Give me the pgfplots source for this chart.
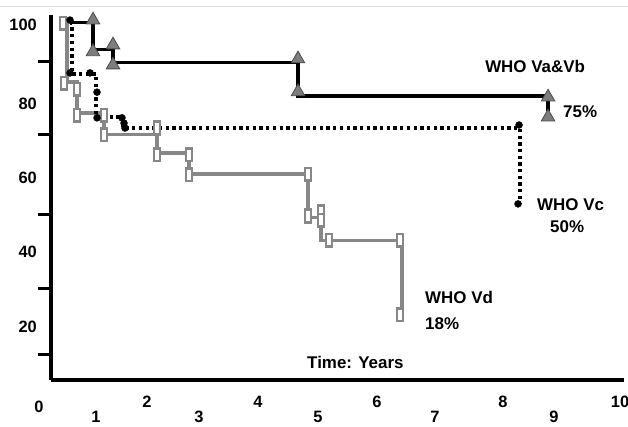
\documentclass[border=0pt]{standalone}
\usepackage{pgfplots}
\pgfplotsset{compat=1.18}
\usepackage{fontspec}
\setmainfont{Liberation Sans}
\definecolor{vdgray}{RGB}{135,135,135}
\definecolor{trigray}{RGB}{125,125,125}
\begin{document}
\begin{tikzpicture}
\path[use as bounding box] (0,0) rectangle (628bp,427bp);
\draw[black!12, line width=1bp] (0,420bp) -- (628bp,420bp);
\begin{axis}[
  at={(51bp,47bp)}, anchor=south west,
  scale only axis, width=573bp, height=365bp,
  xmin=0.225, xmax=10.138, ymin=5.35, ymax=102.04,
  axis lines=left,
  axis line style={-, line width=3bp, black},
  clip=false,
  /pgf/number format/assume math mode=true,
  ticklabel style={font=\fontsize{16.5}{18}\selectfont\bfseries},
  major tick length=0pt,
  xtick={1.886,3.806,5.865,8.045,10.07},
  xticklabels={2,4,6,8,10},
  xtick style={draw=none},
  xticklabel style={anchor=center, inner sep=0pt, yshift=-22bp},
  extra x ticks={1.003,2.785,4.844,6.869,8.927},
  extra x tick labels={1,3,5,7,9},
  extra x tick style={xtick style={draw=none}, xticklabel style={yshift=-15bp}},
  ytick={99.4,78.6,58.9,39.3,19.4},
  yticklabels={100,80,60,40,20},
  ytick style={draw=none},
  yticklabel style={anchor=east, inner sep=0pt, xshift=-14bp},
  extra y ticks={89.6,70.3,49.1,29.7,12.2},
  extra y tick labels={},
  extra y tick style={ytick style={draw=black, line width=3bp}, major tick length=13bp, tick align=outside},
]
% WHO Vd
\addplot[const plot, draw=vdgray, line width=3.2bp, no marks] coordinates {
  (0.450,100) (0.502,84.3) (0.675,76.1) (1.142,70.3) (2.059,65.5)
  (2.612,59.9) (4.671,48.5) (4.896,42.4) (6.298,23.4)
};
\addplot[only marks, mark=square*, mark size=6.4bp,
  mark options={fill=white, draw=vdgray, line width=2.3bp, xscale=0.5}] coordinates {
  (0.433,99.9) (0.450,84.0) (0.675,82.4) (0.675,75.5) (1.142,75.5) (1.142,70.3)
  (2.059,72.1) (2.059,65.0) (2.612,65.0) (2.612,59.7) (4.671,59.9) (4.671,48.8)
  (4.896,49.9) (4.896,47.7) (5.035,42.4) (6.263,42.4) (6.263,22.6)
};
% WHO Vc
\addplot[const plot, draw=black, line width=3.6bp, dash pattern=on 3.3bp off 3.4bp, no marks] coordinates {
  (0.554,100) (0.588,86.4) (1.003,75.0) (1.471,72.1) (8.339,52.0)
};
\addplot[only marks, mark=*, mark size=3.5bp, mark options={fill=black, draw=black}] coordinates {
  (0.554,100.7) (0.554,86.7) (0.900,86.7) (1.021,81.6) (1.021,74.8)
  (1.453,74.8) (1.488,73.4) (1.505,72.1) (8.322,72.9) (8.304,52.0)
};
% WHO Va&Vb
\addplot[const plot, draw=black, line width=3.2bp, no marks] coordinates {
  (0.554,100) (0.952,93.0) (1.298,89.4) (4.498,80.6) (8.824,76.5)
};
\addplot[only marks, mark=triangle*, mark size=7.8bp,
  mark options={fill=trigray, draw=black!70, line width=0.8bp}] coordinates {
  (0.952,100.7) (0.952,92.3) (1.298,94.1) (1.298,88.8)
  (4.498,90.4) (4.498,81.7) (8.824,80.3) (8.824,75.0)
};
\begin{scope}[every node/.style={inner sep=0pt, anchor=base west, font=\fontsize{17}{19}\selectfont\bfseries}]
\node at (axis cs:7.734,86.8) {WHO Va\&Vb};
\node at (axis cs:9.083,74.8) {75\%};
\node at (axis cs:8.633,50.3) {WHO Vc};
\node at (axis cs:8.858,44.3) {50\%};
\node at (axis cs:6.696,25.7) {WHO Vd};
\node at (axis cs:6.696,18.6) {18\%};
\node at (axis cs:4.654,8.5) {Time: Years};
\end{scope}
\node[inner sep=0pt, anchor=center, font=\fontsize{16.5}{18}\selectfont\bfseries] at (axis cs:0.017,-1.8) {0};
\end{axis}
\end{tikzpicture}
\end{document}
